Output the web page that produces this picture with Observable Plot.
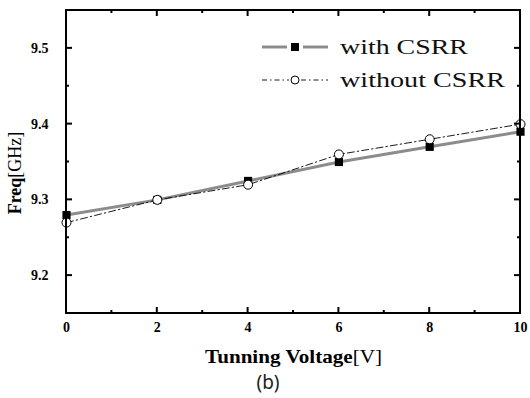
<!DOCTYPE html>
<html>
<head>
<meta charset="utf-8">
<script src="https://cdn.jsdelivr.net/npm/d3@7"></script>
<script src="https://cdn.jsdelivr.net/npm/@observablehq/plot@0.6"></script>
<style>
  html, body { margin: 0; padding: 0; background: #fff; overflow: hidden; }
  #chart svg { display: block; }
</style>
</head>
<body>
<div id="chart"></div>
<script>
const voltage = [0, 2, 4, 6, 8, 10];
const freqWith = [9.28, 9.30, 9.325, 9.35, 9.37, 9.39];
const freqWithout = [9.27, 9.30, 9.32, 9.36, 9.38, 9.40];
const seriesNames = ["with CSRR", "without CSRR"];
const xTicks = [0, 2, 4, 6, 8, 10];
const xMinor = [1, 3, 5, 7, 9];
const yTicks = [9.2, 9.3, 9.4, 9.5];
const yMinor = [9.25, 9.35, 9.45];

const withData = voltage.map((v, i) => ({v, f: freqWith[i]}));
const withoutData = voltage.map((v, i) => ({v, f: freqWithout[i]}));

const serif = "Liberation Serif, Times New Roman, serif";
const fmt = d => d3.format(".1f")(d);

const W = 530, H = 398, mT = 10, mL = 66, mR = 10, mB = 85;
const major = 6, minor = 3;

const plot = Plot.plot({
  width: W, height: H,
  marginTop: mT, marginLeft: mL, marginRight: mR, marginBottom: mB,
  x: {domain: [0, 10]},
  y: {domain: [9.15, 9.55]},
  style: {fontFamily: serif, background: "#fff", color: "#000"},
  marks: [
    Plot.line(withData, {x: "v", y: "f", stroke: "#8c8c8c", strokeWidth: 3}),
    Plot.line(withoutData, {x: "v", y: "f", stroke: "#000", strokeWidth: 0.9, strokeDasharray: "7,3,1.5,3"}),
    Plot.dot(withData, {x: "v", y: "f", symbol: "square", r: 4.6, fill: "#000", stroke: "none"}),
    Plot.dot(withoutData, {x: "v", y: "f", symbol: "circle", r: 4.5, fill: "#fff", stroke: "#000", strokeWidth: 1}),
    Plot.axisX(xTicks, {anchor: "bottom", tickSize: 0, tickPadding: 9, fontFamily: serif, fontSize: 14, fontWeight: "bold", label: null, tickFormat: d => String(d)}),
    Plot.axisY(yTicks, {anchor: "left", tickSize: 0, tickPadding: 18, fontFamily: serif, fontSize: 14, fontWeight: "bold", label: null, tickFormat: fmt})
  ]
});
document.getElementById("chart").appendChild(plot);

const sx = plot.scale("x"), sy = plot.scale("y");
const X = v => sx.apply(v), Y = v => sy.apply(v);
const x0 = X(0), x1 = X(10), y0 = Y(9.15), y1 = Y(9.55);
const svg = d3.select(plot);
const g = svg.append("g");

// frame
g.append("rect").attr("x", x0).attr("y", y1).attr("width", x1 - x0).attr("height", y0 - y1)
  .style("fill", "none").style("stroke", "#000").style("stroke-width", "2px");
// inward ticks on all four sides
const tick = (a, b, c, d) => g.append("line").attr("x1", a).attr("y1", b).attr("x2", c).attr("y2", d)
  .style("stroke", "#000").style("stroke-width", "2px");
[[xTicks, major], [xMinor, minor]].forEach(([arr, len]) => arr.forEach(v => {
  tick(X(v), y0, X(v), y0 - len);
  tick(X(v), y1, X(v), y1 + len);
}));
[[yTicks, major], [yMinor, minor]].forEach(([arr, len]) => arr.forEach(v => {
  tick(x0, Y(v), x0 + len, Y(v));
  tick(x1, Y(v), x1 - len, Y(v));
}));

// axis titles with mixed weight, caption
const xt = svg.append("text")
  .attr("x", 205).attr("y", 363).attr("text-anchor", "start")
  .attr("font-family", serif).attr("font-size", 19).attr("fill", "#000")
  .attr("textLength", 177).attr("lengthAdjust", "spacingAndGlyphs");
xt.append("tspan").attr("font-weight", "bold").text("Tunning Voltage");
xt.append("tspan").attr("font-weight", "normal").text("[V]");

const yt = svg.append("text")
  .attr("transform", "translate(21,173) rotate(-90)").attr("text-anchor", "middle")
  .attr("font-family", serif).attr("font-size", 18).attr("fill", "#000");
yt.append("tspan").attr("font-weight", "bold").text("Freq");
yt.append("tspan").attr("font-weight", "normal").text("[GHz]");

svg.append("text").attr("x", 268).attr("y", 389).attr("text-anchor", "middle")
  .attr("font-family", "Noto Sans, sans-serif").attr("font-size", 19).attr("fill", "#222")
  .text("(b)");

// legend
const lg = svg.append("g");
const rows = [
  {name: seriesNames[0], y: 47, kind: "with"},
  {name: seriesNames[1], y: 80, kind: "without"}
];
rows.forEach(r => {
  if (r.kind === "with") {
    lg.append("line").attr("x1", 262).attr("x2", 287).attr("y1", r.y).attr("y2", r.y).attr("stroke", "#8c8c8c").attr("stroke-width", 3);
    lg.append("line").attr("x1", 303).attr("x2", 328).attr("y1", r.y).attr("y2", r.y).attr("stroke", "#8c8c8c").attr("stroke-width", 3);
    lg.append("rect").attr("x", 291).attr("y", r.y - 4).attr("width", 8).attr("height", 8).attr("fill", "#000");
  } else {
    lg.append("line").attr("x1", 262).attr("x2", 289).attr("y1", r.y).attr("y2", r.y).attr("stroke", "#000").attr("stroke-width", 0.9).attr("stroke-dasharray", "5,3,1.5,3");
    lg.append("line").attr("x1", 301).attr("x2", 328).attr("y1", r.y).attr("y2", r.y).attr("stroke", "#000").attr("stroke-width", 0.9).attr("stroke-dasharray", "5,3,1.5,3");
    lg.append("circle").attr("cx", 295).attr("cy", r.y).attr("r", 4).attr("fill", "#fff").attr("stroke", "#000");
  }
  lg.append("text").attr("x", 340).attr("y", r.y + 7).attr("text-anchor", "start")
    .attr("font-family", serif).attr("font-size", 21).attr("fill", "#111")
    .attr("textLength", r.kind === "with" ? 128 : 165).attr("lengthAdjust", "spacingAndGlyphs")
    .text(r.name);
});
</script>
</body>
</html>
